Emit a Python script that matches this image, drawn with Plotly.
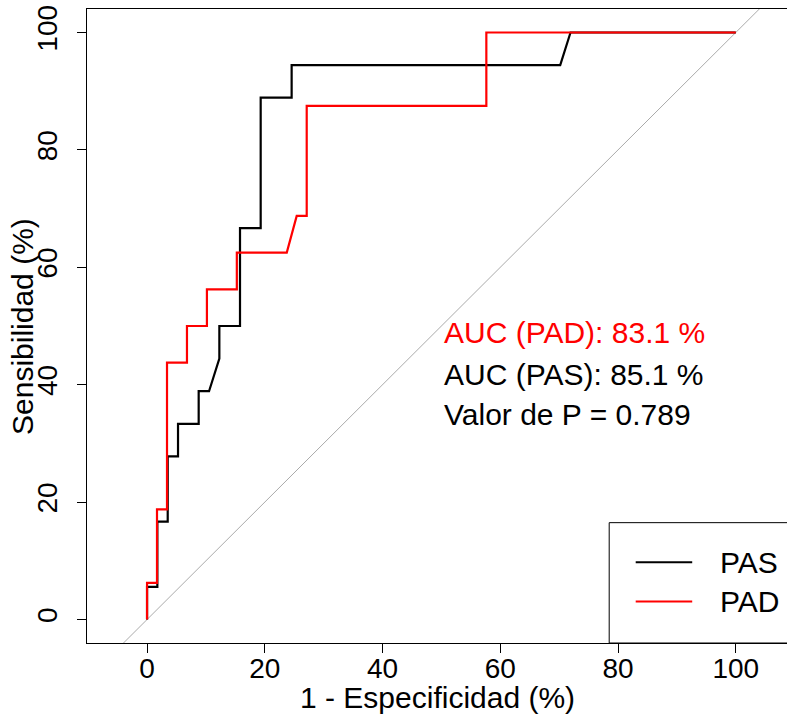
import plotly.graph_objects as go

# ROC curve data (percent)
pas_fpr = [0, 0, 1.75, 1.75, 3.51, 3.51, 5.26, 5.26, 8.77, 8.77, 10.53, 12.28, 12.28,
           15.79, 15.79, 19.30, 19.30, 24.56, 24.56, 70.18, 71.93, 100]
pas_sens = [0, 5.56, 5.56, 16.67, 16.67, 27.78, 27.78, 33.33, 33.33, 38.89, 38.89, 44.44, 50,
            50, 66.67, 66.67, 88.89, 88.89, 94.44, 94.44, 100, 100]

pad_fpr = [0, 0, 1.69, 1.69, 3.39, 3.39, 6.78, 6.78, 10.17, 10.17, 15.25, 15.25, 23.73,
           25.42, 27.12, 27.12, 57.63, 57.63, 100]
pad_sens = [0, 6.25, 6.25, 18.75, 18.75, 43.75, 43.75, 50, 50, 56.25, 56.25, 62.5, 62.5,
            68.75, 68.75, 87.5, 87.5, 100, 100]

diag = [-20, 130]

tick_vals = [0, 20, 40, 60, 80, 100]
tick_text = ["0", "20", "40", "60", "80", "100"]

series_names = ["PAS", "PAD"]
series_colors = ["#000000", "#FF0000"]

stats_text = ["AUC (PAD): 83.1 %", "AUC (PAS): 85.1 %", "Valor de P = 0.789"]
stats_colors = ["#FF0000", "#000000", "#000000"]
stats_y = [48.95, 41.8, 35.0]

FONT = "Liberation Sans, Arial, sans-serif"
FS = 28
FS_TXT = 30

fig = go.Figure()
fig.add_trace(go.Scatter(x=diag, y=diag, mode="lines",
                         line=dict(color="#AAAAAA", width=1), hoverinfo="skip"))
fig.add_trace(go.Scatter(x=pas_fpr, y=pas_sens, mode="lines",
                         line=dict(color=series_colors[0], width=2.2)))
fig.add_trace(go.Scatter(x=pad_fpr, y=pad_sens, mode="lines",
                         line=dict(color=series_colors[1], width=2.2)))

# stats annotations
for t, c, y in zip(stats_text, stats_colors, stats_y):
    fig.add_annotation(x=50.1, y=y, xref="x", yref="y", text=t, showarrow=False,
                       xanchor="left", yanchor="middle",
                       font=dict(family=FONT, size=FS_TXT, color=c))

# manual legend (bottom right, cropped box)
fig.add_shape(type="rect", xref="x", yref="y", x0=78.5, x1=125, y0=-4, y1=16.5,
              line=dict(color="black", width=1), fillcolor="white", layer="below")
leg_y = [9.76, 3.07]
for name, col, ly in zip(series_names, series_colors, leg_y):
    fig.add_shape(type="line", xref="x", yref="y", x0=83.0, x1=92.6, y0=ly, y1=ly,
                  line=dict(color=col, width=2))
    fig.add_annotation(x=97.0, y=ly, xref="x", yref="y", text=name, showarrow=False,
                       xanchor="left", yanchor="middle",
                       font=dict(family=FONT, size=FS_TXT, color="black"))

# axis titles
fig.add_annotation(x=0.5, y=-0.0852, xref="paper", yref="paper",
                   text="1 - Especificidad (%)", showarrow=False,
                   xanchor="center", yanchor="middle",
                   font=dict(family=FONT, size=FS_TXT, color="black"))
fig.add_annotation(x=-0.0929, y=0.5, xref="paper", yref="paper",
                   text="Sensibilidad (%)", showarrow=False, textangle=-90,
                   xanchor="center", yanchor="middle",
                   font=dict(family=FONT, size=FS_TXT, color="black"))

fig.update_layout(
    width=787, height=717,
    margin=dict(l=87, r=0, t=9, b=74),
    paper_bgcolor="white", plot_bgcolor="white",
    showlegend=False,
    font=dict(family=FONT, size=FS, color="black"),
    xaxis=dict(range=[-10.2, 108.7], tickvals=tick_vals, ticktext=tick_text,
               showgrid=False, zeroline=False, showline=True, linecolor="black",
               linewidth=1, mirror=True, ticks="outside", ticklen=9, tickcolor="black",
               ticklabelstandoff=-9,
               tickfont=dict(family=FONT, size=FS)),
    yaxis=dict(range=[-4, 104], tickvals=tick_vals, ticktext=tick_text,
               showgrid=False, zeroline=False, showline=True, linecolor="black",
               linewidth=1, ticks="outside", ticklen=9, tickcolor="black",
               tickangle=-90, ticklabelstandoff=9,
               tickfont=dict(family=FONT, size=FS)),
)

fig.write_html("out.html", config={"displayModeBar": False},
               post_script="document.body.style.margin='0';document.body.style.overflow='hidden';")
